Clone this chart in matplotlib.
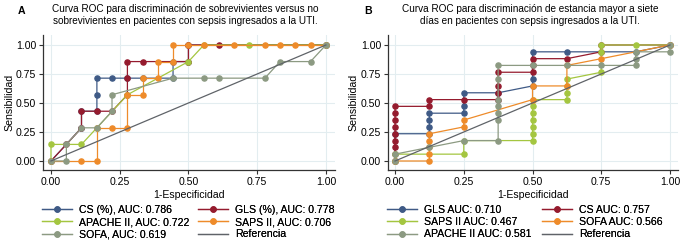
import matplotlib
matplotlib.use("Agg")
import matplotlib.pyplot as plt
from matplotlib.lines import Line2D

plt.rcParams['font.family'] = ['Liberation Sans', 'DejaVu Sans']

# ---------------- Panel A data (1-Especificidad, Sensibilidad) ----------------
a_cs_x = [0, 0.111, 0.111, 0.167, 0.167, 0.167, 0.222, 0.278, 0.333, 0.444, 0.444, 0.5, 0.5, 1.0]
a_cs_y = [0, 0.286, 0.429, 0.429, 0.571, 0.714, 0.714, 0.714, 0.714, 0.714, 0.857, 0.857, 1.0, 1.0]
a_gls_x = [0, 0.056, 0.111, 0.111, 0.167, 0.222, 0.278, 0.278, 0.278, 0.333, 0.5, 0.5, 0.611, 1.0]
a_gls_y = [0, 0.143, 0.286, 0.429, 0.429, 0.429, 0.571, 0.714, 0.857, 0.857, 0.857, 1.0, 1.0, 1.0]
a_apache_x = [0, 0, 0.111, 0.167, 0.278, 0.5, 0.556, 0.722, 1.0]
a_apache_y = [0, 0.143, 0.143, 0.286, 0.571, 0.857, 1.0, 1.0, 1.0]
a_saps_x = [0, 0.111, 0.167, 0.167, 0.222, 0.278, 0.278, 0.333, 0.333, 0.389, 0.389, 0.444, 0.444,
            0.5, 0.556, 0.667, 0.778, 0.833, 0.889, 0.944, 1.0]
a_saps_y = [0, 0, 0, 0.286, 0.286, 0.286, 0.571, 0.571, 0.714, 0.714, 0.857, 0.857, 1.0,
            1.0, 1.0, 1.0, 1.0, 1.0, 1.0, 1.0, 1.0]
a_sofa_x = [0, 0.056, 0.056, 0.111, 0.167, 0.222, 0.222, 0.444, 0.556, 0.611, 0.778, 0.833, 0.944, 1.0]
a_sofa_y = [0, 0, 0.143, 0.286, 0.286, 0.429, 0.571, 0.714, 0.714, 0.714, 0.714, 0.857, 0.857, 1.0]

a_labels = ["CS (%), AUC: 0.786", "GLS (%), AUC: 0.778", "APACHE II, AUC: 0.722",
            "SAPS II, AUC: 0.706", "SOFA, AUC: 0.619", "Referencia"]

# ---------------- Panel B data ----------------
b_gls_x = [0, 0, 0.125, 0.125, 0.125, 0.125, 0.25, 0.25, 0.25, 0.375, 0.5, 0.5, 0.5, 0.625, 0.875, 1.0]
b_gls_y = [0, 0.235, 0.235, 0.294, 0.353, 0.412, 0.412, 0.471, 0.588, 0.588, 0.647, 0.706, 0.941, 0.941, 0.941, 1.0]
b_cs_x = [0, 0, 0, 0, 0, 0, 0, 0, 0, 0.125, 0.125, 0.25, 0.375, 0.375, 0.375, 0.375, 0.5, 0.5, 0.5,
          0.625, 0.75, 0.75, 1.0]
b_cs_y = [0, 0.059, 0.118, 0.176, 0.235, 0.294, 0.353, 0.412, 0.471, 0.471, 0.529, 0.529, 0.529, 0.588,
          0.647, 0.765, 0.765, 0.824, 0.882, 0.882, 0.941, 1.0, 1.0]
b_saps_x = [0, 0, 0.25, 0.25, 0.5, 0.5, 0.5, 0.5, 0.5, 0.5, 0.5, 0.625, 0.625, 0.625, 0.625, 0.75, 0.75,
            0.75, 0.875, 1.0]
b_saps_y = [0, 0.059, 0.059, 0.176, 0.176, 0.235, 0.294, 0.353, 0.412, 0.471, 0.529, 0.529, 0.588,
            0.647, 0.706, 0.765, 0.941, 1.0, 1.0, 1.0]
b_sofa_x = [0, 0.125, 0.125, 0.125, 0.125, 0.125, 0.25, 0.25, 0.5, 0.5, 0.625, 0.625, 0.75, 1.0]
b_sofa_y = [0, 0, 0.059, 0.118, 0.176, 0.235, 0.294, 0.353, 0.529, 0.647, 0.647, 0.824, 0.882, 1.0]
b_apache_x = [0, 0, 0.125, 0.25, 0.375, 0.375, 0.375, 0.375, 0.375, 0.375, 0.375, 0.5, 0.625, 0.75,
              0.875, 0.875, 0.875, 1.0, 1.0]
b_apache_y = [0, 0.059, 0.118, 0.176, 0.176, 0.353, 0.412, 0.471, 0.529, 0.706, 0.824, 0.824, 0.824,
              0.824, 0.824, 0.882, 0.941, 0.941, 1.0]

b_labels = ["GLS AUC: 0.710", "CS AUC: 0.757", "SAPS II AUC: 0.467",
            "SOFA AUC: 0.566", "APACHE II AUC: 0.581", "Referencia"]

ticks = [0.0, 0.25, 0.5, 0.75, 1.0]
tick_labels = ["0.00", "0.25", "0.50", "0.75", "1.00"]

C_BLUE = '#3f5a86'
C_RED = '#951b2e'
C_GREEN = '#a4c640'
C_ORANGE = '#ee8b2a'
C_GREY = '#8c9a82'
C_REF = '#5f6368'
GRID = '#e3edf0'
FS = 7.6
FS_T = 7.2

fig = plt.figure(figsize=(6.81, 2.42), dpi=100)

def setup(ax, xlim, ylab_x):
    ax.set_xlim(*xlim)
    ax.set_ylim(-0.0776, 1.086)
    ax.set_xticks(ticks)
    ax.set_xticklabels(tick_labels)
    ax.set_yticks(ticks)
    ax.set_yticklabels(tick_labels)
    ax.tick_params(labelsize=FS, length=3, width=0.8, color='#333333', pad=2)
    for s in ['top', 'right']:
        ax.spines[s].set_visible(False)
    for s in ['left', 'bottom']:
        ax.spines[s].set_linewidth(0.9)
        ax.spines[s].set_color('#333333')
    ax.grid(True, color=GRID, lw=0.8)
    ax.set_axisbelow(True)
    ax.set_xlabel("1-Especificidad", fontsize=FS, labelpad=2.5)
    ax.set_ylabel("Sensibilidad", fontsize=FS, va='center')
    ax.yaxis.set_label_coords(ylab_x, 0.5)

def curve(ax, x, y, c):
    ax.plot(x, y, color=c, lw=0.9, marker='o', ms=3.7, mec=c, mfc=c, zorder=3)

# Panel A
axA = fig.add_axes([43/681, 72/242, 292/681, 135/242])
setup(axA, (-0.029, 1.033), (9 - 43) / 292)
series_a = [(a_cs_x, a_cs_y, C_BLUE), (a_gls_x, a_gls_y, C_RED), (a_apache_x, a_apache_y, C_GREEN),
            (a_saps_x, a_saps_y, C_ORANGE), (a_sofa_x, a_sofa_y, C_GREY)]
for x, y, c in series_a:
    curve(axA, x, y, c)
axA.plot([0, 1], [0, 1], color=C_REF, lw=0.9, zorder=4)

# Panel B
axB = fig.add_axes([388/681, 72/242, 290/681, 135/242])
setup(axB, (-0.0255, 1.029), (353 - 388) / 290)
series_b = [(b_gls_x, b_gls_y, C_BLUE), (b_cs_x, b_cs_y, C_RED), (b_saps_x, b_saps_y, C_GREEN),
            (b_sofa_x, b_sofa_y, C_ORANGE), (b_apache_x, b_apache_y, C_GREY)]
for x, y, c in series_b:
    curve(axB, x, y, c)
axB.plot([0, 1], [0, 1], color=C_REF, lw=0.9, zorder=4)

def make_legend(colors, labels, x_left, x_right):
    hs = [Line2D([0], [0], color=c, lw=0.9, marker='o', ms=3.7) for c in colors] + \
         [Line2D([0], [0], color=C_REF, lw=0.9)]
    for idxs, x0 in (([0, 2, 4], x_left), ([1, 3, 5], x_right)):
        leg = fig.legend([hs[i] for i in idxs], [labels[i] for i in idxs], ncol=1,
                         loc='upper left', bbox_to_anchor=(x0, 1 - 205/242), frameon=False,
                         fontsize=FS, handlelength=2.8, handletextpad=0.7, labelspacing=0.2,
                         borderaxespad=0, borderpad=0)
        fig.add_artist(leg)

make_legend([C_BLUE, C_RED, C_GREEN, C_ORANGE, C_GREY], a_labels, 42/681, 198/681)
make_legend([C_BLUE, C_RED, C_GREEN, C_ORANGE, C_GREY], b_labels, 387/681, 542/681)

# Titles
fig.text(18/681, 1 - 11/242, "A", fontsize=FS, fontweight='bold', va='center')
fig.text(185/681, 1 - 15/242,
         "Curva ROC para discriminación de sobrevivientes versus no\nsobrevivientes en pacientes con sepsis ingresados a la UTI.",
         fontsize=FS_T, ha='center', va='center', linespacing=1.25)
fig.text(364/681, 1 - 11/242, "B", fontsize=FS, fontweight='bold', va='center')
fig.text(530/681, 1 - 15/242,
         "Curva ROC para discriminación de estancia mayor a siete\ndías en pacientes con sepsis ingresados a la UTI.",
         fontsize=FS_T, ha='center', va='center', linespacing=1.25)

fig.savefig("out.png", dpi=100)
